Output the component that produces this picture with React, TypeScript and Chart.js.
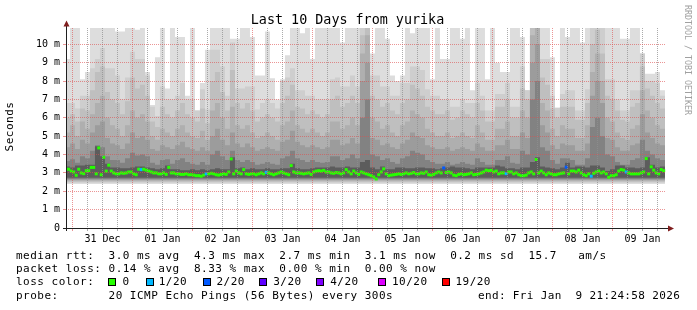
import React, { useEffect, useRef } from 'react';
import { Chart, registerables } from 'chart.js';

Chart.register(...registerables);

// ---------- time axis (hours from 31 Dec 00:00) ----------
const T_START = -2.583; // Dec 30 21:25
const T_END = 237.417; // Jan 9 21:25
const DAY_LABELS = ['31 Dec', '01 Jan', '02 Jan', '03 Jan', '04 Jan', '05 Jan', '06 Jan', '07 Jan', '08 Jan', '09 Jan'];
const MEDIAN_T0 = -2.5; // centre of first 1h step
const MEDIAN_STEP = 1;
const BAND_T0 = -3; // start of first 2h smoke column
const BAND_STEP = 2;

// ---------- y axis (ms) ----------
const Y_MAX = 10.89;
const Y_GRID = [0, 0.5, 1, 1.5, 2, 2.5, 3, 3.5, 4, 4.5, 5, 5.5, 6, 6.5, 7, 7.5, 8, 8.5, 9, 9.5, 10, 10.5];

// ---------- median rtt (ms), one per hour ----------
const MEDIAN = [
  3.2, 3.2, 3.1, 3.05, 2.87, 3.2, 3.0, 2.96, 3.12, 3.12,
  3.3, 3.3, 2.95, 4.36, 2.9, 3.85, 3.1, 3.42, 3.1, 3.0,
  2.95, 2.95, 3.0, 2.98, 3.0, 3.05, 3.05, 2.95, 2.9, 3.2,
  3.18, 3.2, 3.15, 3.1, 3.05, 3.0, 3.0, 2.95, 2.95, 3.0,
  2.92, 3.3, 3.0, 3.0, 2.95, 2.95, 2.92, 2.92, 2.95, 2.9,
  2.9, 2.88, 2.85, 2.85, 2.82, 2.88, 2.95, 2.95, 2.98, 2.95,
  2.9, 2.88, 2.92, 2.95, 2.92, 3.05, 3.76, 2.95, 3.1, 3.0,
  2.95, 3.18, 2.95, 2.92, 2.95, 2.95, 2.9, 2.95, 3.0, 2.95,
  3.03, 3.0, 2.95, 2.9, 2.95, 3.0, 3.05, 3.0, 2.95, 2.9,
  3.4, 3.05, 3.0, 3.0, 2.98, 2.95, 2.98, 3.0, 2.92, 3.05,
  3.1, 3.12, 3.1, 3.14, 3.05, 3.05, 3.0, 2.98, 3.02, 3.0,
  2.95, 3.0, 3.18, 3.05, 2.95, 3.1, 3.0, 2.92, 3.05, 3.0,
  2.95, 2.9, 2.85, 2.78, 2.67, 2.9, 3.05, 3.22, 2.95, 2.85,
  2.88, 2.9, 2.92, 2.95, 2.92, 2.95, 3.0, 2.95, 2.98, 3.02,
  2.95, 2.95, 3.0, 2.98, 3.05, 2.9, 2.88, 2.92, 3.0, 3.05,
  3.0, 3.27, 3.02, 3.05, 3.0, 2.88, 2.85, 2.92, 2.95, 2.9,
  2.92, 2.95, 3.0, 2.9, 2.92, 2.95, 3.0, 3.05, 3.15, 3.12,
  3.14, 3.05, 3.1, 2.95, 3.0, 3.0, 2.96, 3.05, 3.05, 2.95,
  3.0, 2.9, 2.85, 2.85, 2.88, 3.0, 3.05, 2.95, 3.73, 3.0,
  3.1, 3.0, 2.9, 3.0, 2.95, 2.9, 2.9, 2.95, 2.98, 3.0,
  3.31, 2.95, 3.1, 3.1, 3.05, 3.15, 3.0, 2.9, 2.85, 2.95,
  2.82, 2.98, 3.05, 3.1, 3.0, 3.05, 2.95, 2.76, 2.85, 2.85,
  2.9, 3.1, 3.18, 3.15, 3.05, 3.0, 2.95, 2.95, 2.95, 2.95,
  3.0, 3.05, 3.78, 2.95, 3.33, 3.15, 3.0, 2.95, 3.18, 3.12,
];

// hours with packet loss: [hour index, lost pings of 20]
const LOSS_EVENTS = [[30, 1], [56, 1], [80, 1], [151, 2], [176, 1], [200, 2], [210, 1], [224, 1]];
const LOSS_LEVELS = [0, 1, 2, 3, 4, 10, 19];
const LOSS_LABELS = ['0', '1/20', '2/20', '3/20', '4/20', '10/20', '19/20'];
const LOSS_COLORS = ['#26ff00', '#00b8ff', '#0059ff', '#5e00ff', '#7e00ff', '#dd00ff', '#ff0000'];

// ---------- smoke bands (ms), one per 2 hours, outer -> inner ----------
const SMOKE_MAX = [
  9.2, 11.5, 11.5, 8.1, 8.5, 11.5, 11.5, 11.5, 11.5, 11.5,
  10.7, 10.7, 11.5, 11.5, 10.8, 11.5, 8.5, 6.7, 9.3, 11.5,
  7.6, 11.5, 10.4, 10.4, 7.2, 11.5, 6.4, 7.9, 9.7, 11.5,
  11.5, 11.5, 11.5, 10.3, 10.3, 11.5, 11.5, 10.4, 8.3, 8.3,
  10.7, 8.15, 7.0, 8.1, 9.4, 11.5, 11.5, 10.6, 11.5, 9.2,
  11.5, 11.5, 11.5, 11.5, 11.5, 10.1, 11.5, 11.5, 11.5, 11.5,
  11.5, 9.5, 11.5, 11.5, 10.3, 8.3, 8.0, 8.3, 11.5, 10.6,
  11.5, 11.5, 11.5, 8.1, 11.5, 9.2, 9.2, 11.5, 11.5, 10.3,
  11.5, 7.5, 11.5, 11.5, 8.1, 11.5, 9.0, 8.5, 8.5, 11.5,
  11.5, 10.4, 7.5, 11.5, 11.5, 11.5, 11.5, 9.3, 6.55, 11.5,
  10.4, 11.5, 11.5, 10.1, 11.5, 11.5, 11.5, 11.5, 11.5, 11.5,
  11.5, 10.3, 10.3, 11.5, 11.5, 9.5, 8.4, 8.4, 8.5, 7.5,
];
const SMOKE_HIGH = [
  6.8, 6.8, 6.5, 7.2, 7.2, 8.7, 9.2, 9.8, 8.7, 8.7,
  8.3, 7.0, 8.2, 9.6, 9.2, 9.2, 8.3, 6.6, 6.1, 7.7,
  7.0, 7.0, 7.2, 7.9, 7.0, 7.0, 6.4, 7.55, 6.45, 9.7,
  9.7, 8.8, 7.2, 10.1, 7.6, 7.6, 7.7, 7.7, 6.45, 6.8,
  7.0, 6.8, 6.5, 8.0, 8.2, 8.7, 7.5, 7.5, 7.2, 7.2,
  7.0, 7.0, 7.0, 8.1, 8.2, 7.7, 7.7, 8.3, 7.7, 11.5,
  11.5, 8.3, 8.3, 7.7, 7.7, 7.2, 7.2, 7.9, 7.9, 8.8,
  8.8, 8.6, 7.55, 7.2, 7.2, 7.0, 7.0, 6.6, 6.6, 7.0,
  6.8, 6.8, 7.9, 7.2, 6.4, 6.4, 7.3, 7.3, 7.9, 6.6,
  6.6, 8.8, 7.5, 11.5, 11.5, 9.2, 9.2, 7.2, 6.55, 7.3,
  7.5, 7.5, 6.4, 6.4, 7.55, 11.5, 11.5, 11.5, 8.1, 8.1,
  7.0, 6.4, 6.4, 7.5, 7.5, 9.5, 8.0, 8.0, 7.9, 7.2,
];
const SMOKE_UPPER = [
  6.0, 6.2, 5.8, 6.5, 6.4, 7.5, 8.5, 8.8, 7.4, 7.0,
  6.8, 6.2, 6.9, 8.2, 7.6, 7.8, 7.2, 5.8, 5.5, 6.6,
  6.2, 6.0, 6.4, 6.8, 6.2, 6.0, 5.8, 6.5, 5.7, 8.0,
  8.5, 7.4, 6.4, 8.6, 6.8, 6.5, 6.8, 6.4, 5.8, 6.0,
  6.2, 6.0, 5.8, 6.8, 7.2, 7.8, 6.6, 6.5, 6.2, 6.4,
  6.2, 6.0, 6.2, 7.0, 7.2, 6.6, 6.8, 7.2, 6.8, 10.5,
  11.0, 7.2, 7.0, 6.6, 6.8, 6.4, 6.2, 6.8, 7.0, 7.8,
  7.6, 7.2, 6.6, 6.4, 6.2, 6.2, 6.4, 5.9, 6.0, 6.4,
  6.2, 6.0, 6.8, 6.4, 5.8, 5.8, 6.6, 6.6, 7.0, 6.0,
  6.0, 7.6, 7.0, 11.0, 11.5, 8.2, 7.8, 6.5, 6.0, 6.6,
  6.6, 6.6, 5.9, 5.9, 6.8, 10.0, 10.8, 9.5, 7.2, 7.0,
  6.4, 5.9, 5.8, 6.6, 6.8, 8.8, 7.6, 7.2, 6.8, 6.5,
];
const SMOKE_MID = [
  5.2, 5.6, 5.0, 5.8, 5.4, 6.2, 6.8, 7.2, 6.0, 5.6,
  5.4, 5.0, 5.6, 6.4, 6.0, 6.2, 5.8, 5.0, 4.8, 5.4,
  5.2, 5.0, 5.4, 5.6, 5.2, 5.0, 4.9, 5.3, 4.8, 6.4,
  6.8, 6.0, 5.4, 6.6, 5.6, 5.4, 5.6, 5.2, 4.9, 5.0,
  5.2, 5.0, 4.8, 5.6, 5.8, 6.4, 5.6, 5.4, 5.2, 5.4,
  5.2, 5.0, 5.2, 5.8, 5.8, 5.4, 5.6, 6.0, 5.6, 9.5,
  10.5, 6.0, 5.8, 5.4, 5.6, 5.2, 5.0, 5.6, 5.8, 6.4,
  6.2, 6.0, 5.4, 5.2, 5.0, 5.0, 5.2, 4.9, 5.0, 5.2,
  5.0, 4.9, 5.6, 5.2, 4.8, 4.8, 5.4, 5.4, 5.8, 5.0,
  5.0, 6.4, 6.0, 10.5, 11.5, 6.8, 6.4, 5.4, 5.0, 5.6,
  5.4, 5.4, 4.9, 4.9, 5.6, 8.5, 9.5, 8.0, 6.0, 5.8,
  5.2, 4.9, 4.8, 5.4, 5.6, 7.5, 6.4, 6.0, 5.6, 5.4,
];
const SMOKE_LOWER = [
  4.4, 4.6, 4.3, 4.8, 4.6, 5.2, 5.6, 5.8, 4.9, 4.6,
  4.5, 4.3, 4.6, 5.2, 4.9, 5.0, 4.8, 4.3, 4.2, 4.5,
  4.4, 4.3, 4.5, 4.7, 4.4, 4.3, 4.2, 4.4, 4.2, 5.0,
  5.4, 4.8, 4.5, 5.2, 4.6, 4.4, 4.6, 4.4, 4.2, 4.3,
  4.4, 4.3, 4.2, 4.7, 4.8, 5.3, 4.7, 4.5, 4.4, 4.5,
  4.4, 4.3, 4.4, 4.8, 4.8, 4.5, 4.6, 4.9, 4.6, 8.0,
  9.0, 4.9, 4.8, 4.5, 4.6, 4.4, 4.3, 4.6, 4.8, 5.2,
  5.0, 4.9, 4.5, 4.4, 4.3, 4.3, 4.4, 4.2, 4.3, 4.4,
  4.3, 4.2, 4.6, 4.4, 4.2, 4.2, 4.5, 4.5, 4.8, 4.3,
  4.3, 5.2, 4.9, 9.0, 10.0, 5.6, 5.2, 4.5, 4.3, 4.6,
  4.5, 4.5, 4.2, 4.2, 4.6, 7.2, 8.0, 6.8, 4.9, 4.8,
  4.4, 4.2, 4.2, 4.5, 4.6, 6.2, 5.2, 4.9, 4.6, 4.5,
];
const SMOKE_LOW = [
  3.65, 3.75, 3.55, 3.9, 3.8, 4.2, 4.5, 4.4, 3.9, 3.7,
  3.7, 3.55, 3.8, 4.1, 3.95, 4.0, 3.9, 3.55, 3.45, 3.7,
  3.75, 3.5, 3.7, 3.8, 3.6, 3.5, 3.45, 3.6, 3.45, 4.0,
  4.2, 3.9, 3.7, 4.2, 3.7, 3.6, 3.7, 3.6, 3.45, 3.5,
  3.6, 3.5, 3.45, 3.8, 3.9, 4.2, 3.8, 3.7, 3.6, 3.7,
  3.6, 3.55, 3.6, 3.9, 3.9, 3.7, 3.8, 4.0, 3.8, 6.0,
  7.0, 4.0, 3.9, 3.7, 3.8, 3.6, 3.5, 3.8, 3.9, 4.2,
  4.1, 4.0, 3.7, 3.6, 3.5, 3.5, 3.6, 3.45, 3.5, 3.6,
  3.5, 3.45, 3.8, 3.6, 3.45, 3.45, 3.7, 3.7, 3.9, 3.55,
  3.5, 4.2, 4.0, 7.0, 8.0, 4.4, 4.2, 3.7, 3.5, 3.8,
  3.8, 3.7, 3.45, 3.45, 3.8, 5.5, 6.0, 5.0, 4.0, 3.9,
  3.6, 3.45, 3.45, 3.7, 3.8, 4.8, 4.2, 4.0, 3.8, 3.7,
];
const SMOKE_CORE = [
  3.35, 3.3, 3.4, 3.4, 3.45, 3.45, 4.45, 3.9, 3.5, 3.3,
  3.3, 3.25, 3.25, 3.3, 3.35, 3.35, 3.3, 3.25, 3.2, 3.25,
  3.4, 3.2, 3.2, 3.15, 3.15, 3.2, 3.15, 3.2, 3.15, 3.2,
  3.25, 3.2, 3.2, 3.85, 3.25, 3.3, 3.2, 3.25, 3.2, 3.2,
  3.25, 3.2, 3.2, 3.25, 3.25, 3.5, 3.25, 3.2, 3.2, 3.25,
  3.3, 3.3, 3.3, 3.35, 3.3, 3.3, 3.35, 3.3, 3.3, 3.6,
  3.7, 3.3, 3.2, 3.35, 3.2, 3.2, 3.3, 3.3, 3.25, 3.25,
  3.3, 3.3, 3.25, 3.25, 3.2, 3.25, 3.3, 3.35, 3.3, 3.3,
  3.25, 3.2, 3.3, 3.3, 3.3, 3.3, 3.4, 3.35, 3.25, 3.25,
  3.2, 3.3, 3.3, 3.6, 3.85, 3.35, 3.3, 3.25, 3.2, 3.3,
  3.55, 3.3, 3.35, 3.35, 3.3, 3.4, 3.4, 3.3, 3.1, 3.2,
  3.4, 3.4, 3.3, 3.3, 3.25, 3.3, 3.85, 3.45, 3.3, 3.35,
];
const SMOKE_BANDS = [SMOKE_MAX, SMOKE_HIGH, SMOKE_UPPER, SMOKE_MID, SMOKE_LOWER, SMOKE_LOW, SMOKE_CORE];
const SMOKE_FLOORS = [2.4, 2.46, 2.52, 2.57, 2.62, 2.67, 2.74];
const SMOKE_COLORS = ['#dddddd', '#cecece', '#bfbfbf', '#afafaf', '#9c9c9c', '#828282', '#5c5c5c'];

// ---------- text ----------
const TITLE = 'Last 10 Days from yurika';
const Y_TITLE = 'Seconds';
const WATERMARK = 'RRDTOOL / TOBI OETIKER';
const RTT_LINE = 'median rtt:  3.0 ms avg  4.3 ms max  2.7 ms min  3.1 ms now  0.2 ms sd  15.7   am/s';
const LOSS_LINE = 'packet loss: 0.14 % avg  8.33 % max  0.00 % min  0.00 % now';
const LOSS_COLOR_TITLE = 'loss color:';
const PROBE_LINE = 'probe:       20 ICMP Echo Pings (56 Bytes) every 300s';
const END_LINE = 'end: Fri Jan  9 21:24:58 2026';

// ---------- styles ----------
const MAJOR_GRID = 'rgba(222,79,79,0.6)';
const MINOR_GRID = 'rgba(143,143,143,0.75)';
const AXIS_COLOR = '#1f1f1f';
const ARROW_COLOR = 'rgb(128,31,31)';
const MONO = '"DejaVu Sans Mono", "Liberation Mono", monospace';
const LEG_ADV = 7.117;
const LEG_FONT = `11px ${MONO}`;
const SQUARE_X = [108, 146, 203, 259, 316, 378, 442];
const LABEL_X = [122.5, 158.7, 216.5, 273.2, 330.2, 392, 455.4];

const lossColorAt = (i: number) => {
  const ev = LOSS_EVENTS.find((e) => e[0] === i);
  const lvl = ev ? ev[1] : 0;
  return LOSS_COLORS[LOSS_LEVELS.indexOf(lvl)];
};

const stepPoints = (vals: number[]) => {
  const pts = vals.map((v, i) => ({ x: BAND_T0 + i * BAND_STEP, y: v }));
  pts.push({ x: BAND_T0 + vals.length * BAND_STEP, y: vals[vals.length - 1] });
  return pts;
};

const drawMono = (ctx: CanvasRenderingContext2D, text: string, x: number, y: number, adv: number) => {
  for (let k = 0; k < text.length; k++) {
    const ch = text[k];
    if (ch !== ' ') ctx.fillText(ch, x + k * adv, y);
  }
};

const decorPlugin = {
  id: 'rrdDecor',
  afterDraw(chart: any) {
    const ctx: CanvasRenderingContext2D = chart.ctx;
    const { left, right, top, bottom } = chart.chartArea;
    ctx.save();
    // axes
    ctx.strokeStyle = AXIS_COLOR;
    ctx.lineWidth = 1;
    ctx.setLineDash([]);
    ctx.beginPath();
    ctx.moveTo(left + 0.5, bottom + 3);
    ctx.lineTo(left + 0.5, top - 4);
    ctx.moveTo(left - 3, bottom + 0.5);
    ctx.lineTo(right + 5, bottom + 0.5);
    ctx.stroke();
    // arrows
    ctx.fillStyle = ARROW_COLOR;
    ctx.beginPath();
    ctx.moveTo(left - 2.5, top - 1.5);
    ctx.lineTo(left + 3.5, top - 1.5);
    ctx.lineTo(left + 0.5, top - 7.5);
    ctx.closePath();
    ctx.fill();
    ctx.beginPath();
    ctx.moveTo(right + 2, bottom - 2.5);
    ctx.lineTo(right + 2, bottom + 3.5);
    ctx.lineTo(right + 8, bottom + 0.5);
    ctx.closePath();
    ctx.fill();
    // title
    ctx.fillStyle = '#000';
    ctx.font = `13.4px ${MONO}`;
    ctx.textAlign = 'center';
    ctx.textBaseline = 'alphabetic';
    ctx.fillText(TITLE, 347.5, 24);
    // y title
    ctx.save();
    ctx.translate(10.5, 127);
    ctx.rotate(-Math.PI / 2);
    ctx.font = `11px ${MONO}`;
    ctx.textAlign = 'left';
    ctx.textBaseline = 'middle';
    drawMono(ctx, Y_TITLE, -Y_TITLE.length * LEG_ADV / 2 + 0.5, 0, LEG_ADV);
    ctx.restore();
    // watermark
    ctx.save();
    ctx.translate(687.5, 5);
    ctx.rotate(Math.PI / 2);
    ctx.font = `8.3px ${MONO}`;
    ctx.fillStyle = '#a0a0a0';
    ctx.textAlign = 'left';
    ctx.textBaseline = 'middle';
    ctx.fillText(WATERMARK, 0, 0);
    ctx.restore();
    // legend
    ctx.fillStyle = '#000';
    ctx.font = LEG_FONT;
    ctx.textAlign = 'left';
    ctx.textBaseline = 'alphabetic';
    drawMono(ctx, RTT_LINE, 16, 258.7, LEG_ADV);
    drawMono(ctx, LOSS_LINE, 16, 272, LEG_ADV);
    drawMono(ctx, LOSS_COLOR_TITLE, 16, 285.3, LEG_ADV);
    drawMono(ctx, PROBE_LINE, 16, 298.7, LEG_ADV);
    drawMono(ctx, END_LINE, 478, 298.7, 6.97);
    LOSS_LABELS.forEach((lab, k) => {
      ctx.fillStyle = LOSS_COLORS[k];
      ctx.fillRect(SQUARE_X[k], 278, 8, 8);
      ctx.strokeStyle = '#000';
      ctx.lineWidth = 1;
      ctx.strokeRect(SQUARE_X[k] + 0.5, 278.5, 7, 7);
      ctx.fillStyle = '#000';
      drawMono(ctx, lab, LABEL_X[k], 285.3, LEG_ADV);
    });
    ctx.restore();
  },
};

export default function App() {
  const ref = useRef<HTMLCanvasElement | null>(null);

  useEffect(() => {
    if (!ref.current) return;
    const smokeSets = SMOKE_BANDS.map((band, k) => ({
      type: 'line' as const,
      data: stepPoints(band),
      stepped: true,
      borderWidth: 0,
      borderColor: 'rgba(0,0,0,0)',
      backgroundColor: SMOKE_COLORS[k],
      pointRadius: 0,
      fill: { value: SMOKE_FLOORS[k] },
    }));
    // inner bands on top: Chart.js draws the first dataset last
    const datasets: any[] = [
      {
        type: 'line',
        data: MEDIAN.map((v, i) => ({ x: MEDIAN_T0 + i * MEDIAN_STEP, y: v })),
        showLine: false,
        pointStyle: 'line',
        pointRadius: 1.5,
        pointHoverRadius: 1.5,
        pointBorderWidth: 3,
        pointBorderColor: MEDIAN.map((_, i) => lossColorAt(i)),
        pointBackgroundColor: MEDIAN.map((_, i) => lossColorAt(i)),
        fill: false,
      },
      ...smokeSets.slice().reverse(),
    ];

    const chart = new Chart(ref.current, {
      type: 'line',
      data: { datasets },
      plugins: [decorPlugin],
      options: {
        animation: false,
        responsive: false,
        devicePixelRatio: 1,
        events: [],
        layout: { padding: { left: 0, top: 28, right: 31, bottom: 62 } },
        plugins: { legend: { display: false }, title: { display: false }, tooltip: { enabled: false } },
        scales: {
          x: {
            type: 'linear',
            min: T_START,
            max: T_END,
            afterBuildTicks: (axis: any) => {
              const ticks = [];
              for (let t = 0; t <= T_END; t += 6) ticks.push({ value: t });
              axis.ticks = ticks;
            },
            afterFit: (axis: any) => {
              axis.height = 20;
            },
            ticks: {
              autoSkip: false,
              maxRotation: 0,
              minRotation: 0,
              padding: 2,
              color: '#000',
              font: { family: MONO, size: 10 },
              callback: (v: any) => {
                const n = Number(v);
                return n % 24 === 12 ? DAY_LABELS[(n - 12) / 24] : '';
              },
            },
            grid: {
              z: 1,
              lineWidth: 1,
              tickLength: 3,
              color: (c: any) => (c.tick && c.tick.value % 24 === 0 ? MAJOR_GRID : MINOR_GRID),
              tickColor: (c: any) => (c.tick && c.tick.value % 24 === 0 ? MAJOR_GRID : MINOR_GRID),
            },
            border: { display: false, dash: [1, 1] },
          },
          y: {
            type: 'linear',
            min: 0,
            max: Y_MAX,
            afterBuildTicks: (axis: any) => {
              axis.ticks = Y_GRID.map((v) => ({ value: v }));
            },
            afterFit: (axis: any) => {
              axis.width = 66;
            },
            ticks: {
              padding: 3,
              color: '#000',
              font: { family: MONO, size: 10 },
              callback: (v: any) => {
                const n = Number(v);
                if (!Number.isInteger(n)) return '';
                return n === 0 ? '0' : `${n} m`;
              },
            },
            grid: {
              z: 1,
              lineWidth: 1,
              tickLength: 3,
              color: (c: any) => (c.tick && Number.isInteger(c.tick.value) ? MAJOR_GRID : MINOR_GRID),
              tickColor: (c: any) => (c.tick && Number.isInteger(c.tick.value) ? MAJOR_GRID : MINOR_GRID),
            },
            border: { display: false, dash: [1, 1] },
          },
        },
      } as any,
    });
    return () => chart.destroy();
  }, []);

  return (
    <div style={{ position: 'absolute', left: 0, top: 0, width: 697, height: 310, background: '#fff' }}>
      <canvas ref={ref} width={697} height={310} style={{ display: 'block', width: 697, height: 310 }} />
    </div>
  );
}
